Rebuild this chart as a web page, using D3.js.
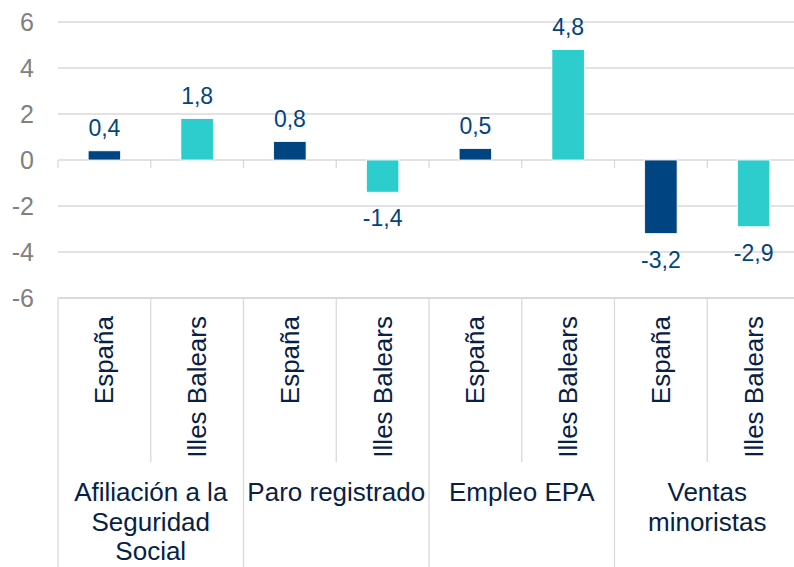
<!DOCTYPE html>
<html>
<head>
<meta charset="utf-8">
<script src="https://cdn.jsdelivr.net/npm/d3@7"></script>
<style>
  body { margin: 0; background: #fff; }
  text { font-family: "Liberation Sans", Arial, sans-serif; }
</style>
</head>
<body>
<div id="chart"></div>
<script>
// data
const groups = ["Afiliación a la|Seguridad|Social", "Paro registrado", "Empleo EPA", "Ventas|minoristas"];
const regions = ["España", "Illes Balears"];
const values = [0.4, 1.8, 0.8, -1.4, 0.5, 4.8, -3.2, -2.9];
const yTicks = [-6, -4, -2, 0, 2, 4, 6];

const W = 794, H = 567;
const plotL = 58, plotR = 800, plotT = 22, plotB = 298;
const colors = ["#004481", "#2dcccd"];

const svg = d3.select("#chart").append("svg").attr("width", W).attr("height", H);

const x = d3.scaleBand().domain(d3.range(values.length)).range([plotL, plotR]).paddingInner(0.65).paddingOuter(0.325);
const xStep = d3.scaleBand().domain(d3.range(values.length)).range([plotL, plotR]);
const gx = d3.scaleBand().domain(d3.range(groups.length)).range([plotL, plotR]);
const y = d3.scaleLinear().domain([-6, 6]).range([plotB, plotT]);

// gridlines
svg.append("g").selectAll("line").data(yTicks).join("line")
  .attr("x1", plotL).attr("x2", plotR)
  .attr("y1", d => y(d)).attr("y2", d => y(d))
  .attr("stroke", "#d9d9d9").attr("stroke-width", d => d === -6 ? 2 : 1.3);

// y tick labels
svg.append("g").selectAll("text").data(yTicks).join("text")
  .attr("x", 34).attr("y", d => y(d)).attr("dy", "0.36em")
  .attr("text-anchor", "end").attr("fill", "#808080").attr("font-size", 25)
  .text(d => d);

// tick marks on zero line
svg.append("g").selectAll("line").data(d3.range(values.length + 1)).join("line")
  .attr("x1", i => plotL + i * xStep.step()).attr("x2", i => plotL + i * xStep.step())
  .attr("y1", y(0)).attr("y2", y(0) + 8)
  .attr("stroke", "#d9d9d9").attr("stroke-width", 1.3);

// bars
svg.append("g").selectAll("rect").data(values).join("rect")
  .attr("x", (d, i) => x(i))
  .attr("y", d => y(Math.max(0, d)))
  .attr("width", x.bandwidth())
  .attr("height", d => Math.abs(y(d) - y(0)))
  .attr("fill", (d, i) => colors[i % 2])
  .attr("stroke", "#fff").attr("stroke-width", 0.8);

// data labels
svg.append("g").selectAll("text").data(values).join("text")
  .attr("x", (d, i) => x(i) + x.bandwidth() / 2)
  .attr("y", d => d >= 0 ? y(d) - 15 : y(d) + 34)
  .attr("text-anchor", "middle").attr("fill", "#004481").attr("font-size", 23)
  .text(d => d3.format(".1f")(d).replace(".", ",").replace("−", "-"));

// category separators
svg.append("g").selectAll("line").data(d3.range(values.length + 1)).join("line")
  .attr("x1", i => plotL + i * xStep.step()).attr("x2", i => plotL + i * xStep.step())
  .attr("y1", plotB).attr("y2", i => i % 2 === 0 ? H : 462)
  .attr("stroke", "#d9d9d9").attr("stroke-width", 1.3);

// rotated region labels
svg.append("g").selectAll("text").data(values).join("text")
  .attr("transform", (d, i) => `translate(${xStep(i) + xStep.bandwidth() / 2},316) rotate(-90)`)
  .attr("dy", "0.35em").attr("text-anchor", "end")
  .attr("fill", "#072146").attr("font-size", 26)
  .text((d, i) => regions[i % 2]);

// group labels
const gl = svg.append("g").selectAll("text").data(groups).join("text")
  .attr("x", (d, i) => gx(i) + gx.bandwidth() / 2)
  .attr("y", 501)
  .attr("text-anchor", "middle").attr("fill", "#072146").attr("font-size", 26);
gl.selectAll("tspan").data(d => d.split("|")).join("tspan")
  .attr("x", function () { return this.parentNode.getAttribute("x"); })
  .attr("dy", (d, i) => i === 0 ? 0 : 29.5)
  .text(d => d);
</script>
</body>
</html>
